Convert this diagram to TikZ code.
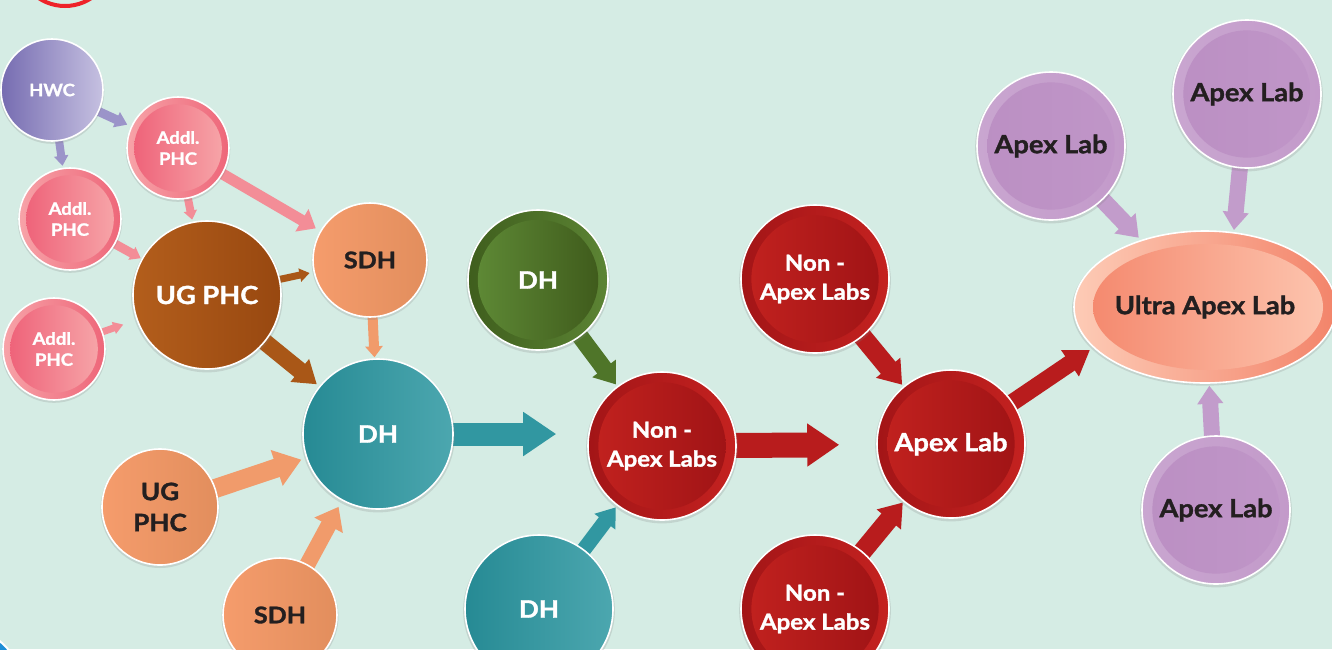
\documentclass[tikz,border=0pt]{standalone}
\usepackage{fontspec}
\setmainfont{Lato}[FakeStretch=1.09, BoldFeatures={FakeBold=1.4, FakeStretch=1.09}]
\usetikzlibrary{arrows.meta,shapes.geometric,shadows}
\pgfdeclarelayer{back}
\pgfdeclarelayer{arrows}
\pgfsetlayers{back,arrows,main}
\definecolor{bg}{HTML}{D5ECE4}
\definecolor{txt}{HTML}{231F20}
\definecolor{hwcL}{HTML}{766CB1}\definecolor{hwcR}{HTML}{C6C1E1}
\definecolor{pkRL}{HTML}{F7A3A8}\definecolor{pkRR}{HTML}{EE6679}
\definecolor{pkL}{HTML}{EE5E76}\definecolor{pkR}{HTML}{F7A9AB}
\definecolor{brL}{HTML}{B35E1C}\definecolor{brR}{HTML}{984810}
\definecolor{orL}{HTML}{F59C6C}\definecolor{orR}{HTML}{E28E5D}
\definecolor{tlL}{HTML}{268A94}\definecolor{tlR}{HTML}{4CA7AF}
\definecolor{gnRL}{HTML}{3F5E1D}\definecolor{gnRR}{HTML}{5C8434}
\definecolor{gnL}{HTML}{608C37}\definecolor{gnR}{HTML}{3D581A}
\definecolor{rdRL}{HTML}{A31517}\definecolor{rdRR}{HTML}{C42220}
\definecolor{rdL}{HTML}{C3221F}\definecolor{rdR}{HTML}{9E1315}
\definecolor{puRL}{HTML}{C9A6D0}\definecolor{puRR}{HTML}{C39ACA}
\definecolor{puL}{HTML}{BB8FC3}\definecolor{puR}{HTML}{C096C8}
\definecolor{ulRL}{HTML}{FDCBB6}\definecolor{ulRR}{HTML}{F3846A}
\definecolor{ulL}{HTML}{F4856A}\definecolor{ulR}{HTML}{FDC7B1}
\definecolor{lavA}{HTML}{9B94C9}
\definecolor{pkA}{HTML}{F38D97}
\definecolor{brA}{HTML}{A95717}
\definecolor{orA}{HTML}{F19B6B}
\definecolor{tlA}{HTML}{3197A1}
\definecolor{gnA}{HTML}{4F7529}
\definecolor{rdA}{HTML}{B81C1D}
\definecolor{puA}{HTML}{C29CCB}
\definecolor{ringred}{HTML}{EE2229}
\definecolor{cornerblue}{HTML}{1D8ED6}
\newcommand\myfs[2]{\fontsize{#1}{#2}\selectfont\bfseries}
\tikzset{
  bub/.style n args={5}{circle, inner sep=0pt, minimum size=#1, draw=white, line width=1.6pt,
    left color=#2, right color=#3,
    drop shadow={opacity=0.22, shadow xshift=0pt, shadow yshift=-1.5pt, shadow scale=1.025},
    path picture={\shade[left color=#4, right color=#5] (path picture bounding box.center) circle[radius=0.43*#1];},
    align=center},
  ubub/.style={ellipse, inner sep=0pt, minimum width=262pt, minimum height=152pt, draw=white, line width=1.6pt,
    left color=ulRL, right color=ulRR,
    drop shadow={opacity=0.22, shadow xshift=0pt, shadow yshift=-1.5pt, shadow scale=1.015},
    path picture={\shade[left color=ulL, right color=ulR] ([xshift=3pt]path picture bounding box.center) ellipse[x radius=115pt, y radius=63pt];},
    align=center},
  arr/.style n args={4}{draw=#1, line width=#2, -{Triangle[width=#3,length=#4]}, shorten <=-12pt},
}
\begin{document}
\begin{tikzpicture}[x=1pt,y=-1pt]
\useasboundingbox (0,0) rectangle (1332,649);
\begin{pgfonlayer}{back}
  \fill[bg] (0,0) rectangle (1332,649);
  \draw[ringred, line width=4pt] (65,-41.5) circle[radius=47.5];
  \draw[white, line width=2pt, fill=cornerblue] (-40,690) circle[radius=63];
\end{pgfonlayer}

% nodes
\node[bub={102pt}{hwcL}{hwcR}{hwcL}{hwcR}, text=white, font=\myfs{17}{20}] (hwc) at (52,90) {HWC};
\node[bub={102pt}{pkRL}{pkRR}{pkL}{pkR}, text=white, font=\myfs{17}{21}] (addA) at (178,148) {Addl.\\PHC};
\node[bub={102pt}{pkRL}{pkRR}{pkL}{pkR}, text=white, font=\myfs{17}{21}] (addB) at (70,219) {Addl.\\PHC};
\node[bub={102pt}{pkRL}{pkRR}{pkL}{pkR}, text=white, font=\myfs{17}{21}] (addC) at (54,349) {Addl.\\PHC};
\node[bub={148pt}{brL}{brR}{brL}{brR}, text=white, font=\myfs{25}{30}] (ugphc) at (207,295) {UG PHC};
\node[bub={114pt}{orL}{orR}{orL}{orR}, text=txt, font=\myfs{23}{28}] (sdhA) at (370,260) {SDH};
\node[bub={150pt}{tlL}{tlR}{tlL}{tlR}, text=white, font=\myfs{24}{28}] (dhA) at (378,434) {DH};
\node[bub={116pt}{orL}{orR}{orL}{orR}, text=txt, font=\myfs{24}{31}] (ugB) at (160,507) {UG\\PHC};
\node[bub={114pt}{orL}{orR}{orL}{orR}, text=txt, font=\myfs{23}{28}] (sdhB) at (280,615) {SDH};
\node[bub={140pt}{gnRL}{gnRR}{gnL}{gnR}, text=white, font=\myfs{24}{28}] (dhG) at (538,280) {DH};
\node[bub={148pt}{tlL}{tlR}{tlL}{tlR}, text=white, font=\myfs{24}{28}] (dhB) at (539,609) {DH};
\node[bub={148pt}{rdRL}{rdRR}{rdL}{rdR}, text=white, font=\myfs{22}{29}] (naC) at (662,446) {Non -\\Apex Labs};
\node[bub={148pt}{rdRL}{rdRR}{rdL}{rdR}, text=white, font=\myfs{22}{29}] (naT) at (815,279) {Non -\\Apex Labs};
\node[bub={148pt}{rdRL}{rdRR}{rdL}{rdR}, text=white, font=\myfs{22}{29}] (naB) at (815,609) {Non -\\Apex Labs};
\node[bub={148pt}{rdRL}{rdRR}{rdL}{rdR}, text=white, font=\myfs{25}{30}] (apex) at (951,444) {Apex Lab};
\node[ubub, text=txt, font=\myfs{25}{30}] (ultra) at (1205,307) {Ultra Apex Lab};
\node[bub={148pt}{puRL}{puRR}{puL}{puR}, text=txt, font=\myfs{25}{30}] (apL) at (1051,146) {Apex Lab};
\node[bub={148pt}{puRL}{puRR}{puL}{puR}, text=txt, font=\myfs{25}{30}] (apT) at (1247,94) {Apex Lab};
\node[bub={148pt}{puRL}{puRR}{puL}{puR}, text=txt, font=\myfs{25}{30}] (apB) at (1216,510) {Apex Lab};

% connectors
\begin{pgfonlayer}{arrows}
\draw[arr={lavA}{9pt}{16pt}{12pt}, shorten >=4pt] (hwc) -- (addA);
\draw[arr={lavA}{8pt}{14pt}{10pt}, shorten >=2pt] (hwc) -- (addB);
\draw[arr={pkA}{8pt}{13pt}{9pt}, shorten >=2pt] (addA) -- (ugphc);
\draw[arr={pkA}{11pt}{25pt}{16pt}, shorten >=5pt] (addA) -- (sdhA);
\draw[arr={pkA}{9pt}{14pt}{10pt}, shorten >=1pt] (addB) -- (ugphc);
\draw[arr={pkA}{7pt}{12pt}{10pt}, shorten >=14pt] (addC) -- (ugphc);
\draw[arr={brA}{7pt}{13pt}{10pt}, shorten >=4pt] (ugphc) -- (sdhA);
\draw[arr={brA}{17pt}{28pt}{22pt}, shorten >=3pt] (ugphc) -- (dhA);
\draw[arr={orA}{10pt}{17pt}{11pt}, shorten >=1pt] (sdhA) -- (dhA);
\draw[arr={orA}{19pt}{36pt}{26pt}, shorten >=5pt] (ugB) -- (dhA);
\draw[arr={orA}{16pt}{31pt}{21pt}, shorten >=7pt] (sdhB) -- (dhA);
\draw[arr={tlA}{23pt}{42pt}{33pt}, shorten >=31pt] (dhA) -- (dhA -| naC.west);
\draw[arr={gnA}{17pt}{28pt}{20pt}, shorten >=2pt] (dhG) -- (naC);
\draw[arr={tlA}{15pt}{25pt}{18pt}, shorten >=2pt] (dhB) -- (naC);
\draw[arr={rdA}{25pt}{41pt}{32pt}, shorten >=37pt] (naC) -- (apex);
\draw[arr={rdA}{19pt}{30pt}{22pt}, shorten >=2pt] (naT) -- (apex);
\draw[arr={rdA}{19pt}{30pt}{22pt}, shorten >=1pt] (naB) -- (apex);
\draw[arr={rdA}{17pt}{30pt}{24pt}, shorten >=4pt] (apex) -- (ultra.200);
\draw[arr={puA}{17pt}{28pt}{20pt}, shorten >=3pt] (apL) -- (ultra);
\draw[arr={puA}{16pt}{25pt}{18pt}, shorten >=2pt] (apT) -- (ultra.69);
\draw[arr={puA}{16pt}{25pt}{18pt}, shorten >=2pt] (apB) -- (ultra);
\end{pgfonlayer}
\end{tikzpicture}
\end{document}
